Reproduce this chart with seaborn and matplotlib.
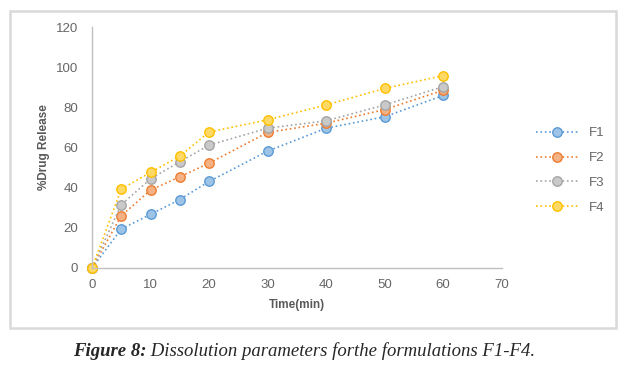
import pandas as pd
import numpy as np
import matplotlib.pyplot as plt
import seaborn as sns
from matplotlib.patches import Rectangle

# данные
time_min = [0, 5, 10, 15, 20, 30, 40, 50, 60]
f1 = [0, 19.4, 26.7, 34.1, 43.1, 58.2, 69.6, 75.3, 85.9]
f2 = [0, 26.0, 38.8, 45.4, 52.2, 67.5, 72.1, 78.9, 88.5]
f3 = [0, 31.5, 44.4, 52.9, 61.2, 69.6, 73.3, 81.2, 90.3]
f4 = [0, 39.3, 47.6, 55.7, 67.7, 73.8, 81.2, 89.4, 95.8]
series_names = ['F1', 'F2', 'F3', 'F4']
x_ticks = [0, 10, 20, 30, 40, 50, 60, 70]
y_ticks = [0, 20, 40, 60, 80, 100, 120]

df = pd.DataFrame({'time': time_min * 4,
                   'release': f1 + f2 + f3 + f4,
                   'formulation': np.repeat(series_names, len(time_min))})

edge_colors = ['#5B9BD5', '#ED7D31', '#A5A5A5', '#FFC000']
fill_colors = ['#9DC3E6', '#F4B183', '#C9C9C9', '#FFD966']

sns.set_style('white')
plt.rcParams['font.family'] = ['Liberation Sans', 'DejaVu Sans']

fig = plt.figure(figsize=(6.28, 3.72), dpi=100)
ax = fig.add_axes([0.1465, 0.2796, 0.6525, 0.6478])

sns.lineplot(data=df, x='time', y='release', hue='formulation',
             palette=edge_colors, marker='o', markersize=6.8,
             linestyle=':', linewidth=1.2, markeredgewidth=1.0,
             legend=False, ax=ax)

for line, fc, ec in zip(ax.lines, fill_colors, edge_colors):
    line.set_markerfacecolor(fc)
    line.set_markeredgecolor(ec)
    line.set_clip_on(False)

ax.set_xlim(0, 70)
ax.set_ylim(0, 120)
ax.set_xticks(x_ticks)
ax.set_yticks(y_ticks)
ax.tick_params(axis='both', length=0, labelsize=9.5, labelcolor='#666666')
ax.tick_params(axis='x', pad=8)
ax.tick_params(axis='y', pad=10)

for side in ['top', 'right']:
    ax.spines[side].set_visible(False)
for side in ['left', 'bottom']:
    ax.spines[side].set_color('#BFBFBF')
    ax.spines[side].set_linewidth(1.0)

ax.set_xlabel('Time(min)', fontsize=8.5, fontweight='bold', color='#595959', labelpad=6)
ax.set_ylabel('%Drug Release', fontsize=8.5, fontweight='bold', color='#595959', labelpad=4)

ax.legend(handles=ax.lines[:4], labels=series_names, frameon=False,
          loc='center left', bbox_to_anchor=(1.055, 0.405), fontsize=9.5,
          labelcolor='#666666', handlelength=3.2, labelspacing=0.95)

# рамка вокруг диаграммы
fig.patches.append(Rectangle((10 / 628, 1 - 328 / 372), 606 / 628, 317 / 372,
                             transform=fig.transFigure, fill=False,
                             edgecolor='#D9D9D9', linewidth=1.8))

# подпись к рисунку
cap1 = fig.text(73 / 628, 1 - 352 / 372, 'Figure 8:', family='Liberation Serif',
                fontsize=13.5, fontweight='bold', style='italic', va='center')
plt.annotate(' Dissolution parameters forthe formulations F1-F4.', xy=(1, 0),
             xycoords=cap1, va='bottom', ha='left', family='Liberation Serif',
             fontsize=13.5, style='italic')

fig.savefig('out.png', dpi=100)
